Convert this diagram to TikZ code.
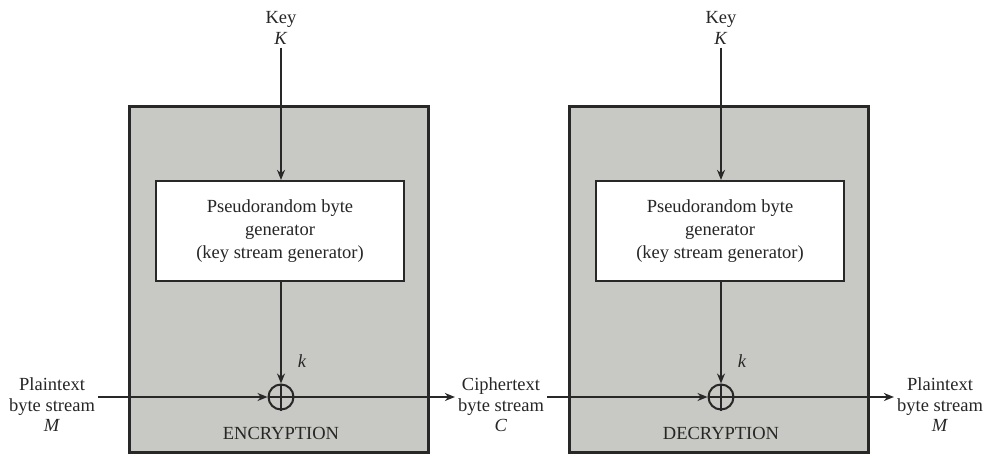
\documentclass[tikz,border=0pt]{standalone}
\usepackage{fontspec}
\setmainfont{Liberation Serif}
\usetikzlibrary{arrows.meta}
\definecolor{panelgray}{RGB}{200,200,196}
\definecolor{edge}{RGB}{40,40,40}
\begin{document}
\begin{tikzpicture}[x=1pt,y=-1pt,
  every node/.style={font=\fontsize{18.5}{20.5}\selectfont, text=black!85},
  panel/.style={draw=edge, line width=3pt, fill=panelgray, minimum width=299pt, minimum height=346pt, inner sep=0pt},
  genbox/.style={draw=edge, line width=2.2pt, fill=white, minimum width=248pt, minimum height=100pt, align=center, inner sep=0pt, font=\fontsize{18.5}{23}\selectfont},
  xorop/.style={draw=edge, line width=2pt, circle, minimum size=25pt, inner sep=0pt},
  stream/.style={align=center, inner sep=3pt},
  flow/.style={draw=edge, line width=2pt, -{Stealth[length=10pt,width=8pt]}}
]
\useasboundingbox (0,0) rectangle (986,455);

% encryption and decryption panels
\node[panel] (enc) at (278.5,279) {};
\node[panel] (dec) at (718.5,279) {};

% key stream generators
\node[genbox] (gen1) at (280,231) {Pseudorandom byte\\generator\\(key stream generator)};
\node[genbox] (gen2) at (720,231) {Pseudorandom byte\\generator\\(key stream generator)};

% XOR operators
\node[xorop] (x1) at (281,397) {};
\node[xorop] (x2) at (721,397) {};
\foreach \x in {x1,x2} {
  \draw[edge, line width=2pt] (\x.north) -- (\x.south) (\x.west) -- (\x.east);
}

% keys
\node[stream] (key1) at (281,28) {Key\\\textit{K}};
\node[stream] (key2) at (721,28) {Key\\\textit{K}};

% stream labels
\node[stream] (pin) at (52,405) {Plaintext\\byte stream\\\textit{M}};
\node[stream] (cmid) at (501,405) {Ciphertext\\byte stream\\\textit{C}};
\node[stream] (pout) at (940,405) {Plaintext\\byte stream\\\textit{M}};

% panel titles and key stream labels
\node (t1) at (281,433) {ENCRYPTION};
\node (t2) at (721,433) {DECRYPTION};
\node (k1) at (302,361) {\textit{k}};
\node (k2) at (742,361) {\textit{k}};

% connectors
\draw[flow] (key1.south) -- (gen1.north -| key1.south);
\draw[flow] (key2.south) -- (gen2.north -| key2.south);
\draw[flow] (gen1.south -| x1) -- (x1.north);
\draw[flow] (gen2.south -| x2) -- (x2.north);
\draw[flow] (pin.east |- x1) -- (x1.west);
\draw[flow] (x1.east) -- (cmid.west |- x1);
\draw[flow] (cmid.east |- x2) -- (x2.west);
\draw[flow] (x2.east) -- (pout.west |- x2);
\end{tikzpicture}
\end{document}
